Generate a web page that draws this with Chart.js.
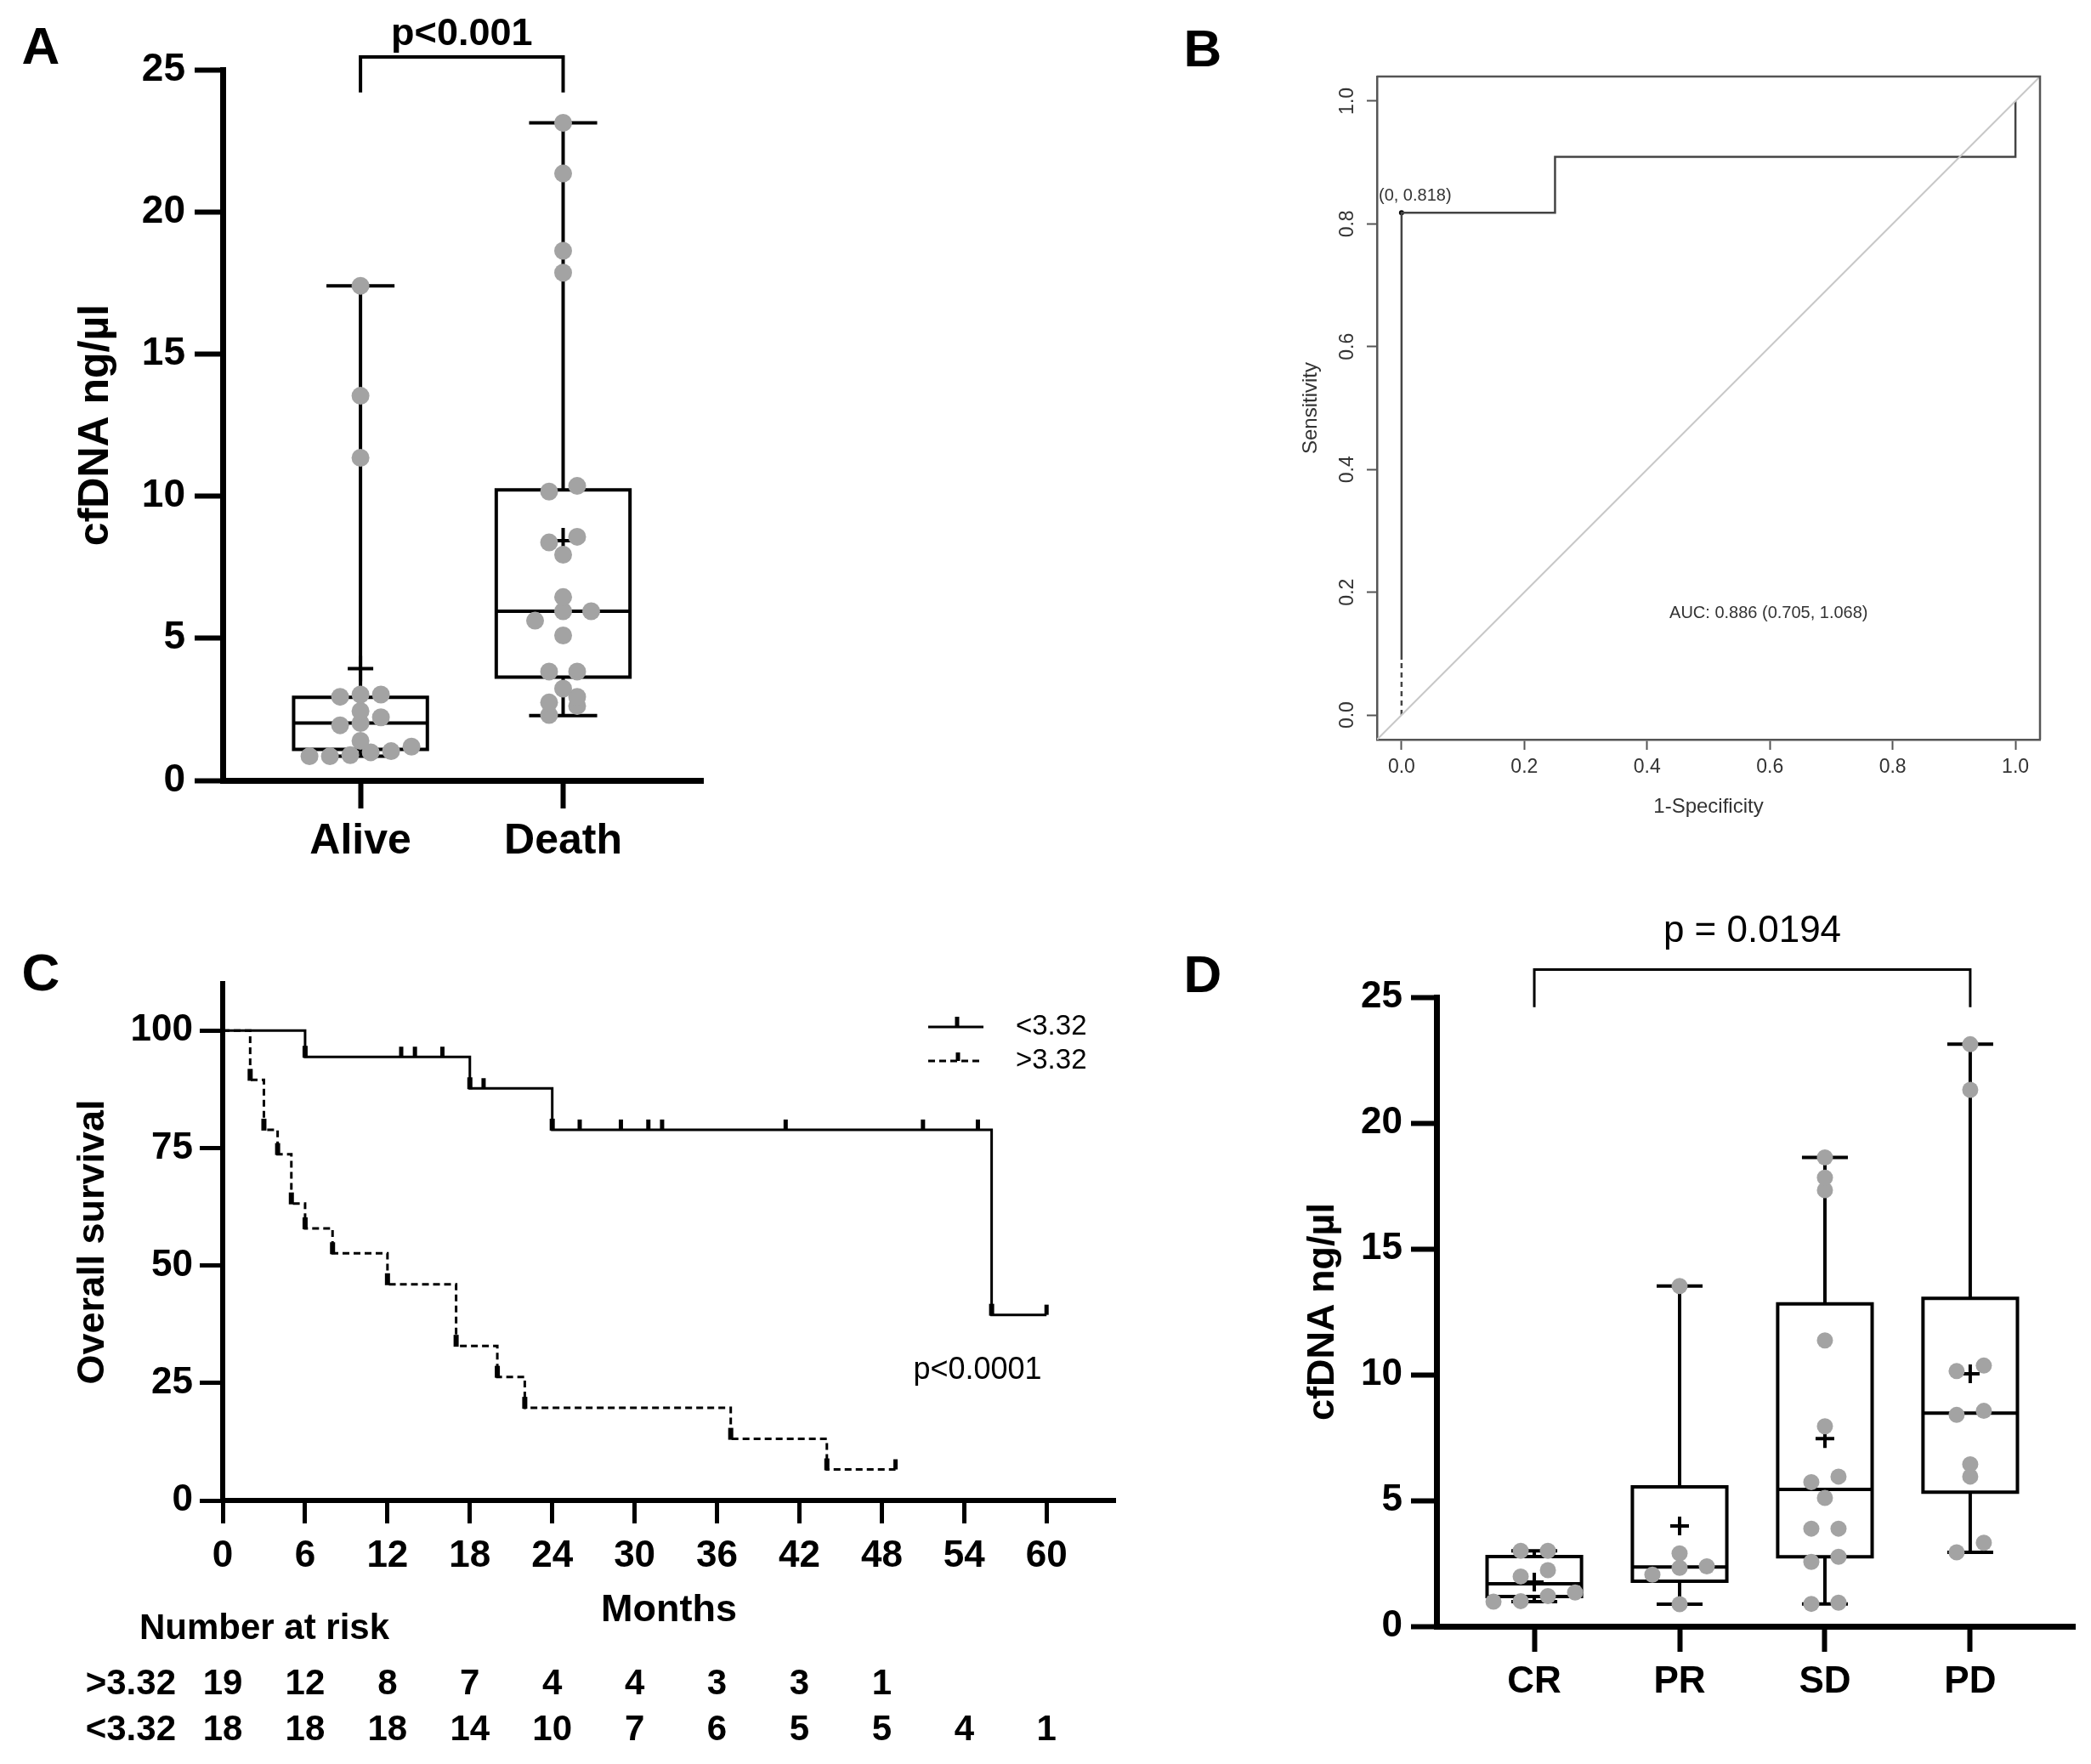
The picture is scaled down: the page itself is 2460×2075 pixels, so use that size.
<!DOCTYPE html>
<html>
<head>
<meta charset="utf-8">
<script src="https://cdn.jsdelivr.net/npm/chart.js@4.4.1/dist/chart.umd.min.js"></script>
<style>
    html, body { margin: 0; padding: 0; background: #fff; width: 2460px; height: 2075px; overflow: hidden; }
    canvas { position: absolute; }
    #chartA { left: 0; top: 0; }
    #chartB { left: 1380px; top: 0; }
    #chartC { left: 0; top: 1080px; }
    #chartD { left: 1380px; top: 1040px; }
</style>
</head>
<body>
<canvas id="chartA" width="900" height="1060"></canvas>
<canvas id="chartB" width="1080" height="1040"></canvas>
<canvas id="chartC" width="1380" height="995"></canvas>
<canvas id="chartD" width="1080" height="1035"></canvas>
<script>
// Panel A - cfDNA by outcome
const groupsA = ['Alive', 'Death'];
const aliveValues = [0.85, 0.85, 0.89, 0.99, 1.03, 1.19, 1.39, 1.94, 2.02, 2.22, 2.44, 2.94, 3.02, 3.02, 11.35, 13.53, 17.4];
const deathValues = [2.3, 2.62, 2.74, 2.94, 3.23, 3.83, 3.83, 5.1, 5.62, 5.95, 5.95, 6.45, 7.94, 8.37, 8.57, 10.16, 10.36, 17.86, 18.63, 21.35, 23.13];
const minA = [0.85, 2.28];
const q1A = [1.09, 3.63];
const medA = [2.02, 5.95];
const q3A = [2.92, 10.22];
const maxA = [17.4, 23.13];
const meanA = [3.93, 8.43];

// Panel B - ROC curve
const rocTicks = [0, 0.2, 0.4, 0.6, 0.8, 1.0];
const rocTailX = [0, 0];
const rocTailY = [0, 0.09];
const rocX = [0, 0, 0.25, 0.25, 1, 1];
const rocY = [0.09, 0.818, 0.818, 0.909, 0.909, 1];
const cutX = [0];
const cutY = [0.818];
const chanceLine = [-0.1, 1.1];

// Panel C - Kaplan-Meier
const monthTicks = [0, 6, 12, 18, 24, 30, 36, 42, 48, 54, 60];
const survTicks = [0, 25, 50, 75, 100];
const lowTimes = [0, 6, 18, 24, 56, 60];
const lowSurv = [100, 94.4, 87.7, 78.9, 39.5, 39.5];
const lowCensor = [13, 14, 16, 19, 26, 29, 31, 32, 41, 51, 55, 60];
const highTimes = [0, 2, 3, 4, 5, 6, 8, 12, 17, 20, 22, 37, 44, 49];
const highSurv = [100, 89.5, 78.9, 73.7, 63.2, 57.9, 52.6, 46.0, 32.9, 26.3, 19.7, 13.1, 6.6, 6.6];
const highCensor = [49];
const riskMonths = [0, 6, 12, 18, 24, 30, 36, 42, 48, 54, 60];
const riskHigh = [19, 12, 8, 7, 4, 4, 3, 3, 1];
const riskLow = [18, 18, 18, 14, 10, 7, 6, 5, 5, 4, 1];

// Panel D - cfDNA by response
const groupsD = ['CR', 'PR', 'SD', 'PD'];
const crValues = [0.98, 1.0, 1.2, 1.34, 1.98, 2.23, 3.0, 3.0];
const prValues = [0.88, 2.05, 2.32, 2.38, 2.9, 13.52];
const sdValues = [0.89, 0.94, 2.56, 2.76, 3.88, 3.88, 5.1, 5.73, 5.95, 7.95, 11.36, 17.33, 17.83, 18.63];
const pdValues = [2.94, 3.32, 5.95, 6.44, 8.4, 8.56, 10.14, 10.36, 21.32, 23.13];
const minD = [0.98, 0.88, 0.89, 2.94];
const q1D = [1.18, 1.79, 2.76, 5.33];
const medD = [1.69, 2.36, 5.44, 8.47];
const q3D = [2.77, 5.54, 12.81, 13.03];
const maxD = [3.0, 13.52, 18.63, 23.13];
const meanD = [1.76, 3.99, 7.46, 10.03];

const FONT = "'Liberation Sans', Arial, Helvetica, sans-serif";
const DOT = '#a3a3a3';

Chart.defaults.font.family = FONT;
Chart.defaults.color = '#000';
Chart.defaults.animation = false;
Chart.defaults.responsive = false;
Chart.defaults.devicePixelRatio = 1;
Chart.defaults.events = [];
Chart.defaults.plugins.legend.display = false;
Chart.defaults.plugins.tooltip.enabled = false;

const toXY = (xs, ys) => xs.map((x, i) => ({ x: x, y: ys[i] }));
const groupPoints = (lists) => lists.flatMap((vals, g) => vals.map(v => ({ x: g, y: v })));

// spread dots of a column sideways, GraphPad style rows
const swarmPlugin = {
    id: 'swarm',
    afterDatasetsUpdate(chart) {
        const xs = chart.scales.x, ys = chart.scales.y;
        chart.data.datasets.forEach((ds, di) => {
            if (!ds.swarmStep) return;
            const meta = chart.getDatasetMeta(di);
            const groups = {};
            ds.data.forEach((p, i) => { (groups[p.x] = groups[p.x] || []).push(i); });
            Object.keys(groups).forEach(g => {
                const step = Array.isArray(ds.swarmStep) ? ds.swarmStep[+g] : ds.swarmStep;
                const idx = groups[g].slice().sort((a, b) => ds.data[a].y - ds.data[b].y);
                const rows = [];
                let row = [];
                idx.forEach(i => {
                    if (row.length && Math.abs(ys.getPixelForValue(ds.data[row[0]].y) - ys.getPixelForValue(ds.data[i].y)) > ds.swarmGap) {
                        rows.push(row);
                        row = [];
                    }
                    row.push(i);
                });
                rows.push(row);
                const cx = xs.getPixelForValue(+g);
                rows.forEach(r => r.forEach((i, k) => {
                    meta.data[i].x = cx + (k - (r.length - 1) / 2) * step;
                }));
            });
        });
    }
};

function boxPlugin(s) {
    return {
        id: 'boxes',
        beforeDatasetsDraw(chart) {
            const { ctx } = chart;
            const xs = chart.scales.x, ys = chart.scales.y;
            ctx.save();
            ctx.strokeStyle = '#000';
            ctx.lineWidth = s.lineWidth;
            s.med.forEach((m, g) => {
                const cx = xs.getPixelForValue(g);
                const bw = xs.getPixelForValue(g + s.boxHalf) - cx;
                const cw = xs.getPixelForValue(g + s.capHalf) - cx;
                const y1 = ys.getPixelForValue(s.q1[g]);
                const y3 = ys.getPixelForValue(s.q3[g]);
                const ym = ys.getPixelForValue(m);
                const ylo = ys.getPixelForValue(s.min[g]);
                const yhi = ys.getPixelForValue(s.max[g]);
                ctx.beginPath();
                ctx.rect(cx - bw, y3, 2 * bw, y1 - y3);
                ctx.moveTo(cx - bw, ym); ctx.lineTo(cx + bw, ym);
                ctx.moveTo(cx, y3); ctx.lineTo(cx, yhi);
                ctx.moveTo(cx, y1); ctx.lineTo(cx, ylo);
                ctx.moveTo(cx - cw, yhi); ctx.lineTo(cx + cw, yhi);
                ctx.moveTo(cx - cw, ylo); ctx.lineTo(cx + cw, ylo);
                ctx.stroke();
            });
            ctx.restore();
        }
    };
}

function bracketPlugin(b) {
    return {
        id: 'bracket',
        afterDraw(chart) {
            const { ctx } = chart;
            const xs = chart.scales.x, ys = chart.scales.y;
            const x0 = xs.getPixelForValue(b.from), x1 = xs.getPixelForValue(b.to);
            const yt = ys.getPixelForValue(b.top), yl = ys.getPixelForValue(b.leg);
            ctx.save();
            ctx.strokeStyle = '#000';
            ctx.lineWidth = b.lineWidth;
            ctx.beginPath();
            ctx.moveTo(x0, yl); ctx.lineTo(x0, yt); ctx.lineTo(x1, yt); ctx.lineTo(x1, yl);
            ctx.stroke();
            ctx.fillStyle = '#000';
            ctx.textAlign = 'center';
            ctx.textBaseline = 'middle';
            ctx.font = b.font;
            ctx.fillText(b.text, (x0 + x1) / 2, ys.getPixelForValue(b.textAt));
            ctx.font = 'bold 62px ' + FONT;
            ctx.fillText(b.letter, b.lx, b.ly);
            ctx.restore();
        }
    };
}

function boxAxes(groups, xmin, xmax, yWidth, xHeight, tick, xPad, yPad, titlePad, titleSize) {
    return {
        x: {
            type: 'linear', min: xmin, max: xmax,
            afterBuildTicks: s => { s.ticks = groups.map((g, i) => ({ value: i })); },
            afterFit: s => { s.height = xHeight; },
            grid: { drawOnChartArea: false, tickLength: tick, tickWidth: 6, tickColor: '#000' },
            border: { color: '#000', width: 7 },
            ticks: { callback: v => groups[v], font: { size: groupsA === groups ? 50 : 44, weight: 'bold' }, padding: xPad, maxRotation: 0, autoSkip: false }
        },
        y: {
            min: 0, max: 25,
            afterFit: s => { s.width = yWidth; },
            grid: { drawOnChartArea: false, tickLength: tick, tickWidth: 6, tickColor: '#000' },
            border: { color: '#000', width: 7 },
            ticks: { stepSize: 5, font: { size: groupsA === groups ? 46 : 44, weight: 'bold' }, padding: yPad },
            title: { display: true, text: 'cfDNA ng/µl', font: { size: titleSize, weight: 'bold' }, padding: { top: titlePad, bottom: 0 } }
        }
    };
}

// Panel A
new Chart(document.getElementById('chartA'), {
    type: 'scatter',
    data: {
        datasets: [
            { data: groupPoints([aliveValues, deathValues]), swarmStep: [24, 33], swarmGap: 13, pointRadius: 10.5, pointBackgroundColor: DOT, pointBorderWidth: 0 },
            { data: meanA.map((m, i) => ({ x: i, y: m })), pointStyle: 'cross', pointRadius: 15, pointBorderColor: '#000', pointBorderWidth: 4 }
        ]
    },
    options: {
        layout: { padding: { left: 0, top: 82, right: 73, bottom: 0 } },
        scales: boxAxes(groupsA, -0.68, 1.69, 262, 142, 33, 9, 11, 83, 50)
    },
    plugins: [
        swarmPlugin,
        boxPlugin({ min: minA, q1: q1A, med: medA, q3: q3A, max: maxA, boxHalf: 0.33, capHalf: 0.168, lineWidth: 4 }),
        bracketPlugin({ from: 0, to: 1, top: 25.45, leg: 24.2, textAt: 26.25, text: 'p<0.001', font: 'bold 45px ' + FONT, lineWidth: 4, letter: 'A', lx: 48, ly: 58 })
    ]
});

// Panel B
new Chart(document.getElementById('chartB'), {
    type: 'scatter',
    data: {
        datasets: [
            { data: toXY(chanceLine, chanceLine), showLine: true, borderColor: '#c8c8c8', borderWidth: 2, pointRadius: 0 },
            { data: toXY(rocTailX, rocTailY), showLine: true, borderColor: '#444', borderWidth: 2.5, borderDash: [6, 5], pointRadius: 0 },
            { data: toXY(rocX, rocY), showLine: true, borderColor: '#444', borderWidth: 2.5, pointRadius: 0 },
            { data: toXY(cutX, cutY), pointRadius: 3, pointBackgroundColor: '#000', pointBorderWidth: 0 }
        ]
    },
    options: {
        layout: { padding: { left: 0, top: 90, right: 60, bottom: 0 } },
        scales: {
            x: {
                min: -0.04, max: 1.04,
                afterBuildTicks: s => { s.ticks = rocTicks.map(v => ({ value: v })); },
                afterFit: s => { s.height = 170; },
                grid: { drawOnChartArea: false, tickLength: 12, tickWidth: 2, tickColor: '#555' },
                border: { color: '#555', width: 2.5 },
                ticks: { callback: v => v.toFixed(1), font: { size: 23 }, color: '#333', padding: 7, maxRotation: 0, autoSkip: false },
                title: { display: true, text: '1-Specificity', font: { size: 24 }, color: '#333', padding: { top: 0, bottom: 76 } }
            },
            y: {
                min: -0.04, max: 1.04,
                afterBuildTicks: s => { s.ticks = rocTicks.map(v => ({ value: v })); },
                afterFit: s => { s.width = 240; },
                grid: { drawOnChartArea: false, tickLength: 12, tickWidth: 2, tickColor: '#555' },
                border: { color: '#555', width: 2.5 },
                ticks: { display: false },
                title: { display: true, text: 'Sensitivity', font: { size: 24 }, color: '#333', padding: { top: 148, bottom: 0 } }
            }
        }
    },
    plugins: [{
        id: 'rocExtras',
        afterDraw(chart) {
            const { ctx, chartArea } = chart;
            const xs = chart.scales.x, ys = chart.scales.y;
            ctx.save();
            ctx.strokeStyle = '#555';
            ctx.lineWidth = 2.5;
            ctx.beginPath();
            ctx.moveTo(chartArea.left, chartArea.top);
            ctx.lineTo(chartArea.right, chartArea.top);
            ctx.lineTo(chartArea.right, chartArea.bottom);
            ctx.stroke();
            ctx.fillStyle = '#333';
            ctx.textAlign = 'center';
            ctx.textBaseline = 'middle';
            ctx.font = '23px ' + FONT;
            ys.ticks.forEach(t => {
                ctx.save();
                ctx.translate(206, ys.getPixelForValue(t.value));
                ctx.rotate(-Math.PI / 2);
                ctx.fillText(t.value.toFixed(1), 0, 0);
                ctx.restore();
            });
            ctx.font = '20px ' + FONT;
            ctx.fillText('(0, 0.818)', xs.getPixelForValue(0.022), ys.getPixelForValue(0.845));
            ctx.fillText('AUC: 0.886 (0.705, 1.068)', xs.getPixelForValue(0.598), ys.getPixelForValue(0.166));
            ctx.fillStyle = '#000';
            ctx.font = 'bold 62px ' + FONT;
            ctx.fillText('B', 35, 61);
            ctx.restore();
        }
    }]
});

// Panel C
const survivalAt = (times, surv, t) => {
    let s = surv[0];
    times.forEach((tt, i) => { if (tt <= t) s = surv[i]; });
    return s;
};

new Chart(document.getElementById('chartC'), {
    type: 'scatter',
    data: {
        datasets: [
            { data: toXY(lowTimes, lowSurv), showLine: true, stepped: true, borderColor: '#000', borderWidth: 3, pointRadius: 0 },
            { data: toXY(highTimes, highSurv), showLine: true, stepped: true, borderColor: '#000', borderWidth: 3, borderDash: [8, 5], pointRadius: 0 }
        ]
    },
    options: {
        layout: { padding: { left: 0, top: 77, right: 68, bottom: 0 } },
        scales: {
            x: {
                min: 0, max: 65,
                afterBuildTicks: s => { s.ticks = monthTicks.map(v => ({ value: v })); },
                afterFit: s => { s.height = 310; },
                grid: { drawOnChartArea: false, tickLength: 27, tickWidth: 5, tickColor: '#000' },
                border: { color: '#000', width: 6 },
                ticks: { font: { size: 44, weight: 'bold' }, padding: 12, maxRotation: 0, autoSkip: false },
                title: { display: true, text: 'Months', font: { size: 45, weight: 'bold' }, padding: { top: 0, bottom: 153 } }
            },
            y: {
                min: 0, max: 110,
                afterBuildTicks: s => { s.ticks = survTicks.map(v => ({ value: v })); },
                afterFit: s => { s.width = 262; },
                grid: { drawOnChartArea: false, tickLength: 27, tickWidth: 5, tickColor: '#000' },
                border: { color: '#000', width: 6 },
                ticks: { font: { size: 44, weight: 'bold' }, padding: 8 },
                title: { display: true, text: 'Overall survival', font: { size: 45, weight: 'bold' }, padding: { top: 83, bottom: 0 } }
            }
        }
    },
    plugins: [{
        id: 'kmExtras',
        afterDatasetsDraw(chart) {
            const { ctx } = chart;
            const xs = chart.scales.x, ys = chart.scales.y;
            ctx.save();
            ctx.strokeStyle = '#000';
            // event marks at the foot of each drop
            ctx.lineWidth = 6;
            [[lowTimes, lowSurv], [highTimes, highSurv]].forEach(([t, s]) => {
                s.forEach((v, i) => {
                    if (i === 0 || v >= s[i - 1]) return;
                    const x = xs.getPixelForValue(t[i]), y = ys.getPixelForValue(v);
                    ctx.beginPath(); ctx.moveTo(x, y + 1); ctx.lineTo(x, y - 13); ctx.stroke();
                });
            });
            // censor ticks
            ctx.lineWidth = 5;
            [[lowCensor, lowTimes, lowSurv], [highCensor, highTimes, highSurv]].forEach(([c, t, s]) => {
                c.forEach(tc => {
                    const x = xs.getPixelForValue(tc), y = ys.getPixelForValue(survivalAt(t, s, tc));
                    ctx.beginPath(); ctx.moveTo(x, y); ctx.lineTo(x, y - 12); ctx.stroke();
                });
            });
            ctx.restore();
        },
        afterDraw(chart) {
            const { ctx } = chart;
            const xs = chart.scales.x;
            ctx.save();
            ctx.strokeStyle = '#000';
            ctx.fillStyle = '#000';
            // legend
            ctx.lineWidth = 3;
            ctx.beginPath(); ctx.moveTo(1092, 128); ctx.lineTo(1157, 128); ctx.stroke();
            ctx.setLineDash([8, 5]);
            ctx.beginPath(); ctx.moveTo(1092, 168); ctx.lineTo(1157, 168); ctx.stroke();
            ctx.setLineDash([]);
            ctx.lineWidth = 5;
            ctx.beginPath(); ctx.moveTo(1126, 128); ctx.lineTo(1126, 116); ctx.stroke();
            ctx.beginPath(); ctx.moveTo(1127, 168); ctx.lineTo(1127, 158); ctx.stroke();
            ctx.textBaseline = 'middle';
            ctx.textAlign = 'left';
            ctx.font = '33px ' + FONT;
            ctx.fillText('<3.32', 1195, 128);
            ctx.fillText('>3.32', 1195, 168);
            ctx.textAlign = 'center';
            ctx.font = '36px ' + FONT;
            ctx.fillText('p<0.0001', 1150, 532);
            // number at risk
            ctx.font = 'bold 42px ' + FONT;
            ctx.fillText('Number at risk', 311, 836);
            ctx.textAlign = 'right';
            ctx.fillText('>3.32', 207, 901);
            ctx.fillText('<3.32', 207, 955);
            ctx.textAlign = 'center';
            riskHigh.forEach((n, i) => ctx.fillText(String(n), xs.getPixelForValue(riskMonths[i]), 901));
            riskLow.forEach((n, i) => ctx.fillText(String(n), xs.getPixelForValue(riskMonths[i]), 955));
            ctx.font = 'bold 62px ' + FONT;
            ctx.fillText('C', 48, 68);
            ctx.restore();
        }
    }]
});

// Panel D
new Chart(document.getElementById('chartD'), {
    type: 'scatter',
    data: {
        datasets: [
            { data: groupPoints([crValues, prValues, sdValues, pdValues]), swarmStep: 32, swarmGap: 11.7, pointRadius: 9.5, pointBackgroundColor: DOT, pointBorderWidth: 0 },
            { data: meanD.map((m, i) => ({ x: i, y: m })), pointStyle: 'cross', pointRadius: 11, pointBorderColor: '#000', pointBorderWidth: 4 }
        ]
    },
    options: {
        layout: { padding: { left: 0, top: 133, right: 19, bottom: 0 } },
        scales: boxAxes(groupsD, -0.673, 3.72, 310, 162, 30, 9, 10, 150, 45)
    },
    plugins: [
        swarmPlugin,
        boxPlugin({ min: minD, q1: q1D, med: medD, q3: q3D, max: maxD, boxHalf: 0.325, capHalf: 0.158, lineWidth: 4 }),
        bracketPlugin({ from: 0, to: 3, top: 26.1, leg: 24.6, textAt: 27.6, text: 'p = 0.0194', font: '44px ' + FONT, lineWidth: 3, letter: 'D', lx: 35, ly: 110 })
    ]
});
</script>
</body>
</html>
